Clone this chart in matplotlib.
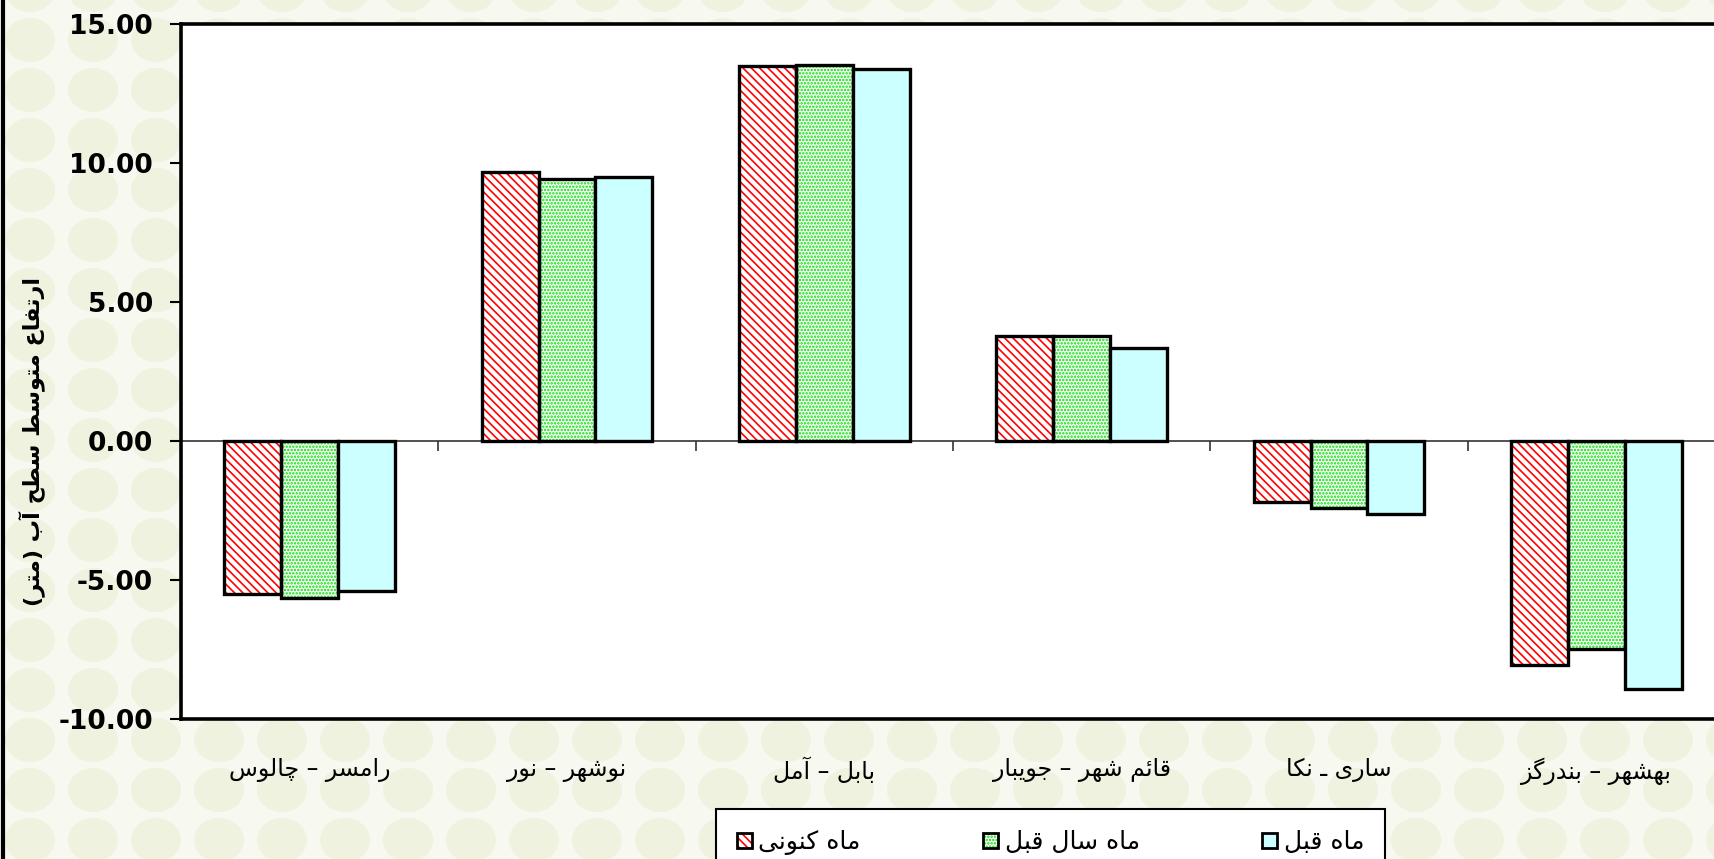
import numpy as np
import matplotlib
matplotlib.use("Agg")
import matplotlib.pyplot as plt
from matplotlib.patches import Patch, Ellipse
from matplotlib.lines import Line2D

plt.rcParams['font.family'] = ['DejaVu Sans']
plt.rcParams['hatch.linewidth'] = 1.2

# --- data ---
categories = ["رامسر – چالوس", "نوشهر – نور", "بابل – آمل",
              "قائم شهر – جویبار", "ساری ـ نکا", "بهشهر – بندرگز"]
series_names = ["ماه کنونی", "ماه سال قبل", "ماه قبل"]
current_month = [-5.50, 9.66, 13.48, 3.76, -2.20, -8.07]
last_year_month = [-5.65, 9.44, 13.52, 3.76, -2.40, -7.48]
previous_month = [-5.40, 9.50, 13.38, 3.33, -2.62, -8.92]
y_label = "ارتفاع متوسط سطح آب (متر)"
y_ticks = [-10, -5, 0, 5, 10, 15]

# minimal persian shaping: logical text -> presentation forms in visual order
FORMS = {
    'ا': ('\uFE8D', '\uFE8E', None, None),
    'آ': ('\uFE81', '\uFE82', None, None),
    'ب': ('\uFE8F', '\uFE90', '\uFE91', '\uFE92'),
    'ت': ('\uFE95', '\uFE96', '\uFE97', '\uFE98'),
    'ج': ('\uFE9D', '\uFE9E', '\uFE9F', '\uFEA0'),
    'چ': ('\uFB7A', '\uFB7B', '\uFB7C', '\uFB7D'),
    'ح': ('\uFEA1', '\uFEA2', '\uFEA3', '\uFEA4'),
    'د': ('\uFEA9', '\uFEAA', None, None),
    'ر': ('\uFEAD', '\uFEAE', None, None),
    'ز': ('\uFEAF', '\uFEB0', None, None),
    'س': ('\uFEB1', '\uFEB2', '\uFEB3', '\uFEB4'),
    'ش': ('\uFEB5', '\uFEB6', '\uFEB7', '\uFEB8'),
    'ط': ('\uFEC1', '\uFEC2', '\uFEC3', '\uFEC4'),
    'ع': ('\uFEC9', '\uFECA', '\uFECB', '\uFECC'),
    'ف': ('\uFED1', '\uFED2', '\uFED3', '\uFED4'),
    'ق': ('\uFED5', '\uFED6', '\uFED7', '\uFED8'),
    '\u06A9': ('\uFB8E', '\uFB8F', '\uFB90', '\uFB91'),
    '\u0643': ('\uFB8E', '\uFB8F', '\uFB90', '\uFB91'),
    'گ': ('\uFB92', '\uFB93', '\uFB94', '\uFB95'),
    'ل': ('\uFEDD', '\uFEDE', '\uFEDF', '\uFEE0'),
    'م': ('\uFEE1', '\uFEE2', '\uFEE3', '\uFEE4'),
    'ن': ('\uFEE5', '\uFEE6', '\uFEE7', '\uFEE8'),
    'ه': ('\uFEE9', '\uFEEA', '\uFEEB', '\uFEEC'),
    'و': ('\uFEED', '\uFEEE', None, None),
    '\u06CC': ('\uFBFC', '\uFBFD', '\uFBFE', '\uFBFF'),
    '\u064A': ('\uFBFC', '\uFBFD', '\uFBFE', '\uFBFF'),
    'ئ': ('\uFE89', '\uFE8A', '\uFE8B', '\uFE8C'),
}
MIRROR = {'(': ')', ')': '('}


def fa(text):
    out = []
    for i, c in enumerate(text):
        if c not in FORMS:
            out.append(MIRROR.get(c, c))
            continue
        prev = text[i - 1] if i > 0 else None
        nxt = text[i + 1] if i + 1 < len(text) else None
        iso, fin, ini, med = FORMS[c]
        jp = prev in FORMS and FORMS[prev][2] is not None
        jn = nxt in FORMS and ini is not None
        if jp and jn:
            out.append(med)
        elif jp:
            out.append(fin)
        elif jn:
            out.append(ini)
        else:
            out.append(iso)
    return ''.join(reversed(out))


W, H = 1715, 859
fig = plt.figure(figsize=(W / 100, H / 100), dpi=100)
fig.patch.set_facecolor('#f7f8ef')

# pale bubble texture of the background
for cy in np.arange(-10, H + 60, 50):
    for cx in np.arange(30, W + 60, 63):
        fig.add_artist(Ellipse((cx / W, 1 - cy / H), 50 / W, 44 / H,
                               transform=fig.transFigure, facecolor='#f0f2e0',
                               edgecolor='none', zorder=-5))

ax = fig.add_axes([181 / W, 1 - 719 / H, 1544 / W, 695 / H])
ax.set_facecolor('white')

x = np.arange(len(categories))
w = 0.221
styles = [
    dict(color='#ff0000', hatch='\\\\\\\\'),
    dict(color='#00e000', hatch='.....'),
    dict(color=None, hatch=None),
]
all_series = [current_month, last_year_month, previous_month]
handles = []
for k, (vals, st) in enumerate(zip(all_series, styles)):
    pos = x + (k - 1) * w
    if st['hatch']:
        ax.bar(pos, vals, w, facecolor='white', edgecolor=st['color'],
               hatch=st['hatch'], linewidth=0, zorder=2)
        ax.bar(pos, vals, w, fill=False, edgecolor='black', linewidth=2.4, zorder=3)
        h = (Patch(facecolor='white', edgecolor=st['color'], hatch=st['hatch'], linewidth=0),
             Patch(fill=False, edgecolor='black', linewidth=2))
    else:
        ax.bar(pos, vals, w, facecolor='#ccffff', edgecolor='black', linewidth=2.4, zorder=3)
        h = Patch(facecolor='#ccffff', edgecolor='black', linewidth=2)
    handles.append(h)

ax.set_xlim(-0.5, len(categories) - 0.5)
ax.set_ylim(-10, 15)
ax.axhline(0, color='#333333', linewidth=1.2, zorder=1)
ax.vlines(x[:-1] + 0.5, -0.36, 0, color='#333333', linewidth=1.2, zorder=1)

ax.set_yticks(y_ticks)
ax.set_yticklabels([f'{v:.2f}' for v in y_ticks], fontsize=19, fontweight='bold')
ax.tick_params(axis='y', length=8, width=1.5, pad=12)
ax.set_xticks(x)
ax.set_xticklabels([fa(c) for c in categories], fontsize=17)
ax.tick_params(axis='x', length=0, pad=28)

for s in ['left', 'top', 'bottom', 'right']:
    ax.spines[s].set_linewidth(2.6)

ax.set_ylabel(fa(y_label), fontsize=16, fontweight='bold')
ax.yaxis.set_label_coords(-0.088, 0.40)

leg = fig.legend(handles, [fa(s) for s in series_names], loc='upper left',
                 bbox_to_anchor=(716 / W, 1 - 809 / H), ncol=3,
                 fontsize=18, frameon=True, fancybox=False, edgecolor='black',
                 handlelength=0.6, handleheight=0.6, handletextpad=0.25,
                 columnspacing=4.9, borderpad=0.85, borderaxespad=0)
leg.get_frame().set_linewidth(1.5)
leg.get_frame().set_alpha(1)

fig.add_artist(Line2D([3 / W, 3 / W], [0, 1], color='black', linewidth=3,
                      transform=fig.transFigure))

fig.savefig('out.png', dpi=100, facecolor=fig.get_facecolor())
